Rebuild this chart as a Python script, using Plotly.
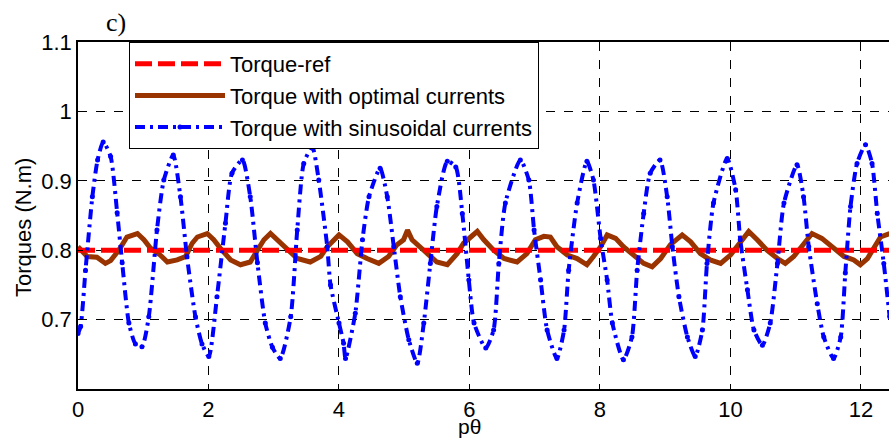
import plotly.graph_objects as go

# ---- data ----
ref_x = [0.0, 12.6]
ref_y = [0.8, 0.8]

opt_x = [0.00, 0.14, 0.29, 0.42, 0.50, 0.625, 0.75, 0.91, 1.01, 1.11, 1.26, 1.37, 1.52, 1.65, 1.75, 1.83,
         1.98, 2.08, 2.18, 2.34, 2.49, 2.64, 2.75, 2.85, 2.95, 3.05, 3.21, 3.36, 3.56, 3.72, 3.82, 3.95,
         4.00, 4.13, 4.28, 4.43, 4.61, 4.76, 4.89, 4.99, 5.05, 5.12, 5.25, 5.38, 5.50, 5.66, 5.81, 5.91,
         6.02, 6.12, 6.22, 6.37, 6.53, 6.73, 6.88, 7.01, 7.14, 7.24, 7.34, 7.50, 7.65, 7.80, 7.90, 8.01,
         8.11, 8.24, 8.36, 8.52, 8.67, 8.80, 8.93, 9.08, 9.26, 9.39, 9.54, 9.69, 9.85, 10.00, 10.15, 10.28,
         10.41, 10.56, 10.72, 10.84, 10.97, 11.12, 11.25, 11.40, 11.58, 11.74, 11.89, 11.99, 12.10, 12.20,
         12.30, 12.44]
opt_y = [0.805, 0.791, 0.790, 0.781, 0.785, 0.800, 0.819, 0.824, 0.815, 0.803, 0.793, 0.783, 0.786, 0.791, 0.810, 0.819,
         0.824, 0.815, 0.803, 0.786, 0.779, 0.783, 0.800, 0.815, 0.824, 0.815, 0.803, 0.788, 0.783, 0.791, 0.805, 0.819,
         0.822, 0.812, 0.795, 0.788, 0.781, 0.791, 0.808, 0.815, 0.829, 0.815, 0.803, 0.793, 0.783, 0.779, 0.795, 0.810,
         0.819, 0.827, 0.815, 0.800, 0.788, 0.783, 0.795, 0.815, 0.820, 0.819, 0.805, 0.793, 0.788, 0.779, 0.791, 0.805,
         0.822, 0.817, 0.805, 0.793, 0.781, 0.776, 0.788, 0.808, 0.822, 0.812, 0.795, 0.786, 0.781, 0.793, 0.810, 0.827,
         0.815, 0.800, 0.788, 0.781, 0.791, 0.808, 0.824, 0.817, 0.803, 0.791, 0.786, 0.779, 0.788, 0.805,
         0.819, 0.824]

sin_x = [0.00, 0.04, 0.115, 0.22, 0.30, 0.386, 0.50, 0.60, 0.677, 0.78, 0.88, 0.98, 1.085, 1.21, 1.315, 1.46,
         1.57, 1.67, 1.80, 1.90, 2.005, 2.13, 2.26, 2.36, 2.52, 2.64, 2.75, 2.87, 2.98, 3.10, 3.26, 3.36,
         3.46, 3.59, 3.69, 3.82, 3.87, 4.00, 4.07, 4.10, 4.25, 4.36, 4.46, 4.63, 4.74, 4.84, 4.94, 5.07,
         5.20, 5.30, 5.40, 5.50, 5.66, 5.79, 5.89, 5.99, 6.07, 6.25, 6.37, 6.45, 6.55, 6.78, 6.91, 6.99,
         7.09, 7.19, 7.34, 7.45, 7.52, 7.65, 7.80, 7.90, 8.01, 8.11, 8.19, 8.36, 8.49, 8.57, 8.67, 8.77,
         8.92, 9.03, 9.11, 9.21, 9.34, 9.46, 9.57, 9.64, 9.74, 9.95, 10.08, 10.15, 10.26, 10.36, 10.49, 10.61,
         10.72, 10.82, 11.02, 11.12, 11.20, 11.33, 11.43, 11.58, 11.69, 11.76, 11.84, 11.94, 12.07, 12.17,
         12.25, 12.35, 12.44]
sin_y = [0.680, 0.690, 0.771, 0.877, 0.930, 0.956, 0.935, 0.854, 0.782, 0.695, 0.665, 0.661, 0.704, 0.829, 0.901, 0.937,
         0.877, 0.791, 0.704, 0.665, 0.647, 0.733, 0.839, 0.911, 0.930, 0.877, 0.782, 0.695, 0.660, 0.644, 0.704, 0.829,
         0.925, 0.949, 0.901, 0.805, 0.750, 0.695, 0.666, 0.644, 0.709, 0.815, 0.877, 0.918, 0.877, 0.805, 0.733, 0.671,
         0.637, 0.695, 0.781, 0.863, 0.928, 0.920, 0.853, 0.757, 0.695, 0.659, 0.685, 0.781, 0.868, 0.930, 0.901, 0.829,
         0.757, 0.685, 0.644, 0.685, 0.771, 0.868, 0.928, 0.901, 0.817, 0.757, 0.695, 0.642, 0.675, 0.771, 0.853, 0.911,
         0.930, 0.877, 0.805, 0.733, 0.675, 0.647, 0.685, 0.781, 0.868, 0.932, 0.887, 0.815, 0.743, 0.685, 0.663, 0.695,
         0.781, 0.868, 0.923, 0.877, 0.805, 0.723, 0.675, 0.644, 0.675, 0.767, 0.863, 0.925, 0.952, 0.925,
         0.853, 0.781, 0.704]

y_ticks = [0.7, 0.8, 0.9, 1.0, 1.1]
y_labels = ["0.7", "0.8", "0.9", "1", "1.1"]
x_ticks = [0, 2, 4, 6, 8, 10, 12]

FONT = "Liberation Sans, Arial, sans-serif"
W, H = 889, 443
ML, MR, MT, MB = 78, 0, 42, 54
PW, PH = W - ML - MR, H - MT - MB

fig = go.Figure()
fig.add_trace(go.Scatter(x=opt_x, y=opt_y, mode="lines", name="Torque with optimal currents",
                         line=dict(color="#993300", width=5), legendrank=2))
fig.add_trace(go.Scatter(x=ref_x, y=ref_y, mode="lines", name="Torque-ref",
                         line=dict(color="#ff0000", width=5, dash="17px,6px"), legendrank=1))
fig.add_trace(go.Scatter(x=sin_x, y=sin_y, mode="lines+markers", name="Torque with sinusoidal currents",
                         line=dict(color="#0000ff", width=4, dash="10px,5px,3px,5px", shape="spline", smoothing=0.6),
                         marker=dict(color="#0000ff", size=5), legendrank=3))

fig.update_layout(
    width=W, height=H,
    margin=dict(l=ML, r=MR, t=MT, b=MB),
    paper_bgcolor="white", plot_bgcolor="white",
    font=dict(family=FONT, size=22, color="black"),
    showlegend=True,
    legend=dict(x=(129 - ML) / PW, y=1.0, xanchor="left", yanchor="top",
                bgcolor="white", bordercolor="black", borderwidth=1,
                font=dict(family=FONT, size=22), itemwidth=90, tracegroupgap=0),
    xaxis=dict(range=[0, 12.43], tickvals=x_ticks, showgrid=True, gridcolor="black", griddash="dash",
               gridwidth=1, showline=True, linecolor="black", linewidth=1.5, mirror=True,
               ticks="inside", ticklen=5, tickcolor="black", zeroline=False,
               tickfont=dict(size=22, family=FONT)),
    yaxis=dict(range=[0.6, 1.1], tickvals=y_ticks, ticktext=y_labels, showgrid=True, gridcolor="black",
               griddash="dash", gridwidth=1, showline=True, linecolor="black", linewidth=1.5,
               ticks="inside", ticklen=5, tickcolor="black", zeroline=False,
               tickfont=dict(size=22, family=FONT)),
    annotations=[
        dict(text="Torques (N.m)", x=(23 - ML) / PW, xref="paper", y=1 - (227 - MT) / PH, yref="paper",
             xanchor="center", yanchor="middle", textangle=-90, showarrow=False,
             font=dict(size=22, family=FONT)),
        dict(text="pθ", x=6, xref="x", y=-(426 - (H - MB)) / PH, yref="paper", yanchor="middle",
             showarrow=False, font=dict(size=21, family=FONT)),
        dict(text="c)", x=(116 - ML) / PW, xref="paper", y=1 + (MT - 23) / PH, yref="paper",
             xanchor="center", yanchor="middle", showarrow=False,
             font=dict(size=26, family="Liberation Serif, Times New Roman, serif")),
    ],
)

fig.write_html("out.html", config={"displayModeBar": False},
               post_script="document.body.style.margin='0px';document.body.style.padding='0px';")
